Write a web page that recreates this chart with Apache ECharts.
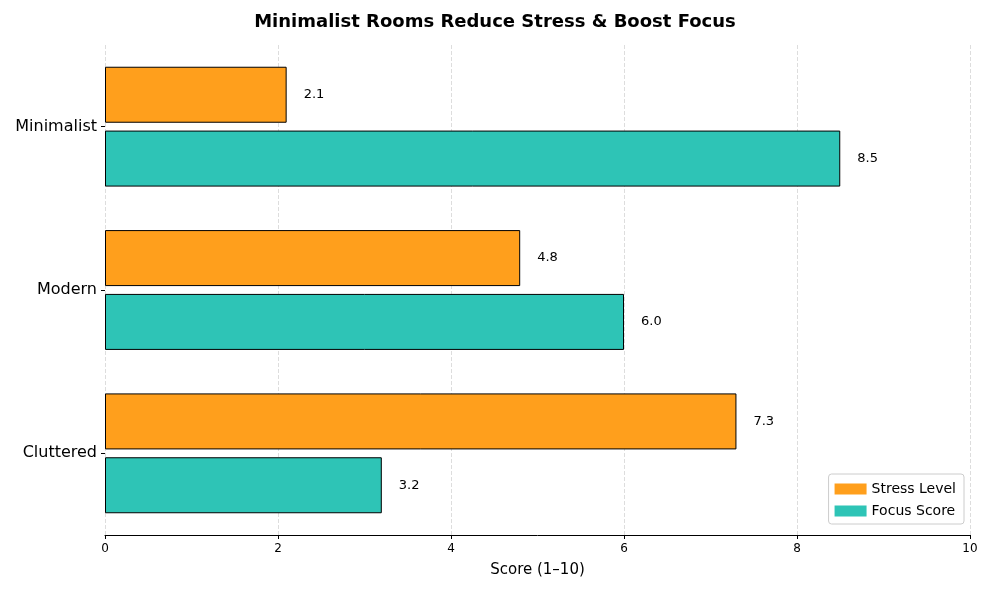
<!DOCTYPE html>
<html>
<head>
<meta charset="utf-8">
<script src="https://cdn.jsdelivr.net/npm/echarts@6/dist/echarts.min.js"></script>
<style>
  html, body { margin: 0; padding: 0; background: #fff; }
  #chart { width: 990px; height: 590px; }
</style>
</head>
<body>
<div id="chart"></div>
<script>
const categories = ['Cluttered', 'Modern', 'Minimalist'];
const stressLevel = [7.3, 4.8, 2.1];
const focusScore = [3.2, 6.0, 8.5];
const xTicks = [0, 2, 4, 6, 8, 10];

const font = 'DejaVu Sans';

const barLabel = {
    show: true,
    position: 'right',
    distance: 17,
    color: '#000',
    fontSize: 13,
    fontFamily: font,
    formatter: p => p.value.toFixed(1)
};

const chart = echarts.init(document.getElementById('chart'));
chart.setOption({
    animation: false,
    textStyle: { fontFamily: font },
    title: {
        text: 'Minimalist Rooms Reduce Stress & Boost Focus',
        left: 'center',
        top: 8,
        textStyle: { fontSize: 18, fontWeight: 'bold', color: '#000', fontFamily: font }
    },
    legend: {
        data: ['Stress Level', 'Focus Score'],
        orient: 'vertical',
        right: 26,
        bottom: 66,
        icon: 'rect',
        itemWidth: 32,
        itemHeight: 11,
        itemGap: 8,
        itemStyle: { borderWidth: 0 },
        padding: [8, 8, 6, 6],
        borderColor: '#ccc',
        borderWidth: 1,
        borderRadius: 3,
        textStyle: { fontSize: 14, color: '#000', fontFamily: font }
    },
    grid: { left: 105, right: 20, top: 45, bottom: 55 },
    xAxis: {
        type: 'value',
        min: 0,
        max: 10,
        interval: 2,
        name: 'Score (1–10)',
        nameLocation: 'middle',
        nameGap: 28,
        nameTextStyle: { fontSize: 15, color: '#000', fontFamily: font },
        axisLine: { show: true, lineStyle: { color: '#000' } },
        axisTick: { show: true, length: 4, lineStyle: { color: '#000' } },
        axisLabel: {
            color: '#000', fontSize: 12, fontFamily: font,
            formatter: v => xTicks.includes(v) ? String(v) : ''
        },
        splitLine: { show: true, lineStyle: { type: 'dashed', color: '#ddd' } }
    },
    yAxis: {
        type: 'category',
        data: categories,
        axisLine: { show: false },
        axisTick: { show: true, alignWithLabel: true, length: 4, lineStyle: { color: '#000' } },
        axisLabel: { color: '#000', fontSize: 16, fontFamily: font, margin: 8 }
    },
    series: [
        {
            name: 'Stress Level',
            type: 'bar',
            data: stressLevel,
            barWidth: 56,
            barGap: '14%',
            itemStyle: { color: '#ff9f1c', borderColor: '#000', borderWidth: 1 },
            label: barLabel
        },
        {
            name: 'Focus Score',
            type: 'bar',
            data: focusScore,
            barWidth: 56,
            barGap: '14%',
            itemStyle: { color: '#2ec4b6', borderColor: '#000', borderWidth: 1 },
            label: barLabel
        }
    ]
});
</script>
</body>
</html>
